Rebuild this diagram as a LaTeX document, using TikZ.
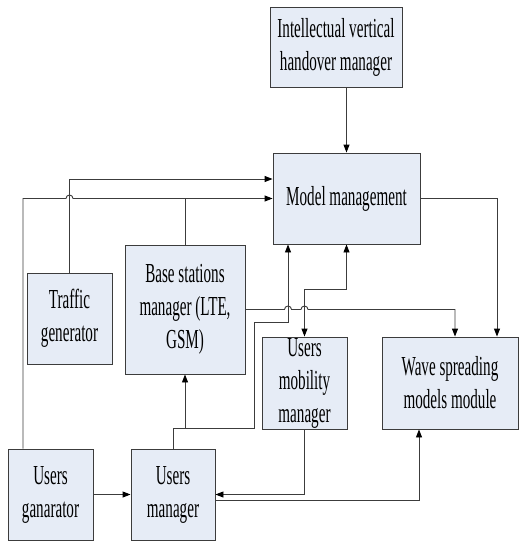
\documentclass[tikz,border=0pt]{standalone}
\usepackage{fontspec}
\newfontfamily\boxfont{Liberation Serif}[FakeStretch=0.55]
\usetikzlibrary{arrows.meta}
\definecolor{boxfill}{RGB}{230,236,246}
\definecolor{wire}{RGB}{60,60,60}
\begin{document}
\begin{tikzpicture}[x=1pt,y=-1pt,
  block/.style={draw=wire, line width=0.9pt, fill=boxfill, align=center,
    inner sep=0pt, font=\boxfont\fontsize{27.5}{33}\selectfont},
  link/.style={draw=wire, line width=0.9pt},
  tip/.tip={Triangle[length=8pt,width=6pt,color=black]},
  arr/.style={link, -tip},
  arrboth/.style={link, tip-tip},
  ]
\useasboundingbox (0,0) rectangle (524,541);

% blocks
\node[block, minimum width=132pt, minimum height=80pt] (ivhm) at (336,47)
  {Intellectual vertical\\handover manager};
\node[block, minimum width=147pt, minimum height=91pt] (mm) at (346.5,198.5)
  {Model management};
\node[block, minimum width=85pt, minimum height=91pt] (tg) at (69.5,318.5)
  {Traffic\\generator};
\node[block, minimum width=120pt, minimum height=129pt] (bs) at (185,309.5)
  {Base stations\\manager (LTE,\\GSM)};
\node[block, minimum width=85pt, minimum height=92pt] (umm) at (304.5,383)
  {Users\\mobility\\manager};
\node[block, minimum width=136pt, minimum height=92pt] (wave) at (450,383)
  {Wave spreading\\models module};
\node[block, minimum width=85pt, minimum height=91pt] (ug) at (50.5,494.5)
  {Users\\ganarator};
\node[block, minimum width=84pt, minimum height=91pt] (um) at (173,494.5)
  {Users\\manager};

% connectors
\draw[arr] (ivhm.south -| mm.north) -- (mm.north);
\draw[arr] (tg.north) |- ([yshift=19.5pt]mm.west);
\draw[arr] ([xshift=-27.5pt]ug.north) -- (23,198.5) -- (66,198.5)
  arc[start angle=180, end angle=0, radius=3.5pt] -- (mm.west);
\draw[link] (bs.north) -- (bs.north |- mm.west);
\draw[arr] (mm.east) -| ([xshift=47pt]wave.north);
\draw[arr] (bs.east) -- (284.5,309.5)
  arc[start angle=180, end angle=0, radius=3.5pt] -- (301,309.5)
  arc[start angle=180, end angle=0, radius=3.5pt] -- (455,309.5)
  -- ([xshift=5pt]wave.north);
\draw[arr] (um.north) |- (254,428) |- (288,322) -- ([xshift=-58.5pt]mm.south);
\draw[arr] (185,428) -- (bs.south);
\draw[arrboth] (mm.south) |- (304.5,289) -- (umm.north);
\draw[arr] (umm.south) |- (um.east);
\draw[arr] ([yshift=-5.5pt]um.east) -| ([xshift=-31pt]wave.south);
\draw[arr] (ug.east) -- (um.west);
\end{tikzpicture}
\end{document}
